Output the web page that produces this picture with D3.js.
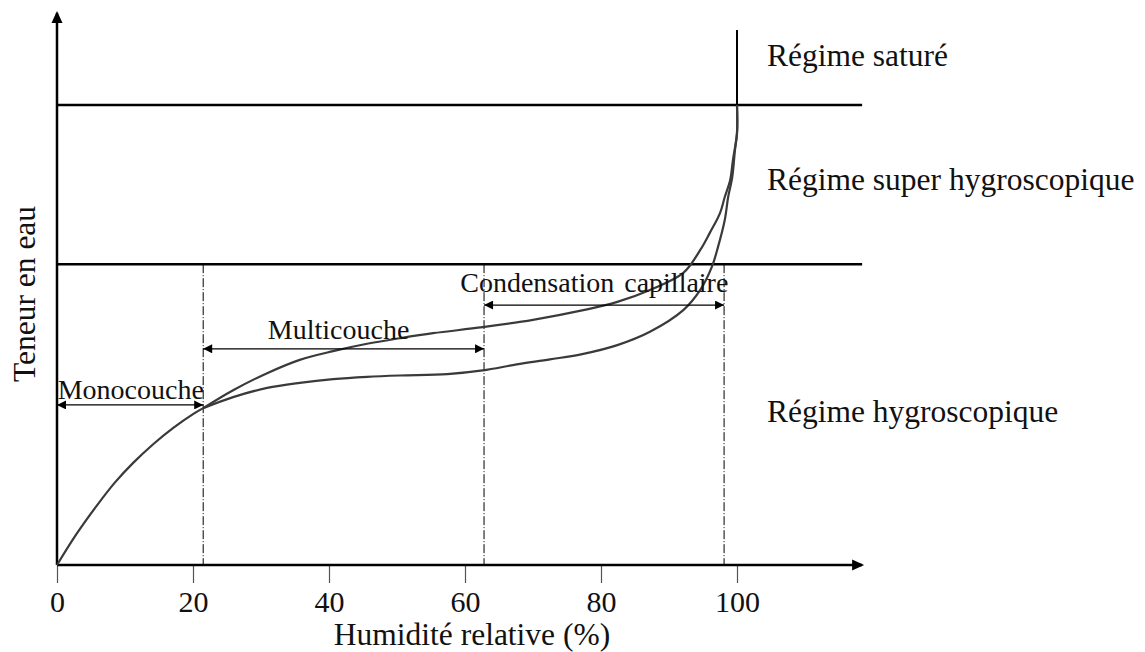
<!DOCTYPE html>
<html>
<head>
<meta charset="utf-8">
<script src="https://cdn.jsdelivr.net/npm/d3@7"></script>
<style>
  html, body { margin: 0; padding: 0; background: #fff; }
  svg text { font-family: "Liberation Serif", "Times New Roman", Times, "DejaVu Serif", serif; }
</style>
</head>
<body>
<svg id="chart" width="1145" height="652"></svg>
<script>
// ---- data (x: relative humidity %, y: water content, arbitrary units) ----
const xTicks = [0, 20, 40, 60, 80, 100];
const xLabel = "Humidité relative (%)";
const yLabel = "Teneur en eau";

// common initial part of both curves (monolayer)
const sharedX = [0, 2.9, 5.8, 8.5, 11.2, 14.1, 17.1, 20.0, 21.5];
const sharedY = [0, 6.8, 12.8, 17.9, 22.2, 26.2, 29.8, 32.8, 34.1];

// lower branch (adsorption)
const adsX = [21.5, 25.9, 30.9, 35.7, 40.6, 45.6, 50.4, 57.4, 62.6, 67.6, 72.5, 77.4, 82.4, 87.2, 92.1, 94.6, 96.3, 97.2, 98.2, 98.7, 99.3, 99.7, 100, 100];
const adsY = [34.1, 36.5, 38.5, 39.6, 40.4, 40.9, 41.2, 41.5, 42.3, 43.6, 44.7, 45.9, 47.8, 50.7, 55.4, 59.8, 64.8, 69.1, 75.0, 80.0, 84.3, 90.2, 93.9, 100];

// upper branch (desorption)
const desX = [21.5, 25.9, 30.9, 35.7, 40.6, 45.6, 50.4, 55.3, 62.6, 70.0, 77.4, 82.4, 87.2, 92.1, 94.6, 96.0, 97.5, 98.2, 99.0, 99.4, 100, 100];
const desY = [34.1, 38.0, 41.7, 44.6, 46.5, 48.1, 49.3, 50.4, 51.7, 53.3, 55.4, 57.2, 59.8, 63.5, 68.5, 72.2, 76.5, 80.0, 83.7, 88.0, 93.9, 100];

// regime limits (water content)
const regimeLimits = [100, 65.4];
const regimeNames = ["Régime saturé", "Régime super hygroscopique", "Régime hygroscopique"];
const regimeLabelY = [108.5, 81.5, 31.0];

// sorption zones (humidity bounds)
const zoneBounds = [21.5, 62.8, 98.1];
const zoneNames = ["Monocouche", "Multicouche", "Condensation capillaire"];
const zoneStart = [0, 21.5, 62.8];
const zoneEnd = [21.5, 62.8, 98.1];
const zoneArrowY = [34.8, 47.0, 56.5];
const zoneTextY = [36.1, 49.1, 59.3];
const zoneTextX = [0.1, 31.0, 59.3];

// ---- layout ----
const svg = d3.select("#chart");
const x = d3.scaleLinear().domain([0, 100]).range([57, 737]);
const y = d3.scaleLinear().domain([0, 100]).range([565, 105]);
const xMaxAxis = 118.4;
const yMaxAxis = 120;

// defs: arrowheads
const defs = svg.append("defs");
defs.append("marker").attr("id", "ah").attr("viewBox", "0 0 10 10")
  .attr("refX", 10).attr("refY", 5).attr("markerWidth", 12).attr("markerHeight", 9)
  .attr("markerUnits", "userSpaceOnUse").attr("orient", "auto-start-reverse")
  .append("path").attr("d", "M0,0 L10,5 L0,10 Z").attr("fill", "#000");

// axes
const xAxis = d3.axisBottom(x).tickValues(xTicks).tickSize(18).tickPadding(8).tickFormat(d3.format("d"));
const gx = svg.append("g").attr("transform", `translate(0,${y(0)})`).call(xAxis);
gx.attr("font-family", null).attr("font-size", null);
gx.select(".domain").remove();
gx.selectAll(".tick line").attr("stroke", "#555").attr("stroke-width", 1.2);
gx.selectAll(".tick text").attr("font-size", 30).attr("fill", "#111").attr("dy", "0.71em");

// axis lines with arrows
svg.append("line").attr("x1", x(0)).attr("y1", y(0)).attr("x2", x(xMaxAxis)).attr("y2", y(0))
  .attr("stroke", "#000").attr("stroke-width", 2.5);
svg.append("path")
  .attr("d", `M${x(xMaxAxis) + 2},${y(0)} L${x(xMaxAxis) - 10},${y(0) - 5.5} L${x(xMaxAxis) - 10},${y(0) + 5.5} Z`)
  .attr("fill", "#000");
svg.append("line").attr("x1", x(0)).attr("y1", y(0)).attr("x2", x(0)).attr("y2", y(yMaxAxis))
  .attr("stroke", "#000").attr("stroke-width", 2.5);
svg.append("path")
  .attr("d", `M${x(0)},${y(yMaxAxis) - 2} L${x(0) - 5.5},${y(yMaxAxis) + 10} L${x(0) + 5.5},${y(yMaxAxis) + 10} Z`)
  .attr("fill", "#000");

// regime limit lines
svg.selectAll(".regime").data(regimeLimits).enter().append("line")
  .attr("x1", x(0)).attr("x2", x(xMaxAxis))
  .attr("y1", d => y(d)).attr("y2", d => y(d))
  .attr("stroke", "#000").attr("stroke-width", 2.5);

// saturation vertical line at 100 %
svg.append("line").attr("x1", x(100)).attr("x2", x(100))
  .attr("y1", y(100)).attr("y2", y(116.3))
  .attr("stroke", "#000").attr("stroke-width", 2);

// zone boundaries (dash-dot)
svg.selectAll(".zb").data(zoneBounds).enter().append("line")
  .attr("x1", d => x(d)).attr("x2", d => x(d))
  .attr("y1", y(regimeLimits[1])).attr("y2", y(0))
  .attr("stroke", "#000").attr("stroke-width", 1)
  .attr("stroke-dasharray", "9,2,1,2");

// curves
const line = d3.line().x(d => x(d[0])).y(d => y(d[1])).curve(d3.curveCatmullRom.alpha(0.5));
const shared = d3.zip(sharedX, sharedY);
const ads = d3.zip(adsX, adsY);
const des = d3.zip(desX, desY);
[shared, ads, des].forEach(pts => {
  svg.append("path").datum(pts).attr("d", line)
    .attr("fill", "none").attr("stroke", "#3a3a3a").attr("stroke-width", 2.2);
});

// zone arrows
zoneNames.forEach((n, i) => {
  svg.append("line")
    .attr("x1", x(zoneStart[i])).attr("x2", x(zoneEnd[i]))
    .attr("y1", y(zoneArrowY[i])).attr("y2", y(zoneArrowY[i]))
    .attr("stroke", "#000").attr("stroke-width", 1.2)
    .attr("marker-start", "url(#ah)").attr("marker-end", "url(#ah)");
  svg.append("text").attr("x", x(zoneTextX[i])).attr("y", y(zoneTextY[i]))
    .attr("font-size", 28).attr("fill", "#111").attr("word-spacing", i === 2 ? 3 : 0)
    .text(n);
});

// regime labels
regimeNames.forEach((n, i) => {
  svg.append("text").attr("x", 767).attr("y", y(regimeLabelY[i]))
    .attr("font-size", 31.5).attr("fill", "#111").text(n);
});

// axis titles
svg.append("text").attr("x", 472).attr("y", 645).attr("text-anchor", "middle")
  .attr("font-size", 31.5).attr("fill", "#111").text(xLabel);
svg.append("text").attr("transform", "translate(35,294) rotate(-90)")
  .attr("text-anchor", "middle").attr("font-size", 31.5).attr("fill", "#111").text(yLabel);
</script>
</body>
</html>
